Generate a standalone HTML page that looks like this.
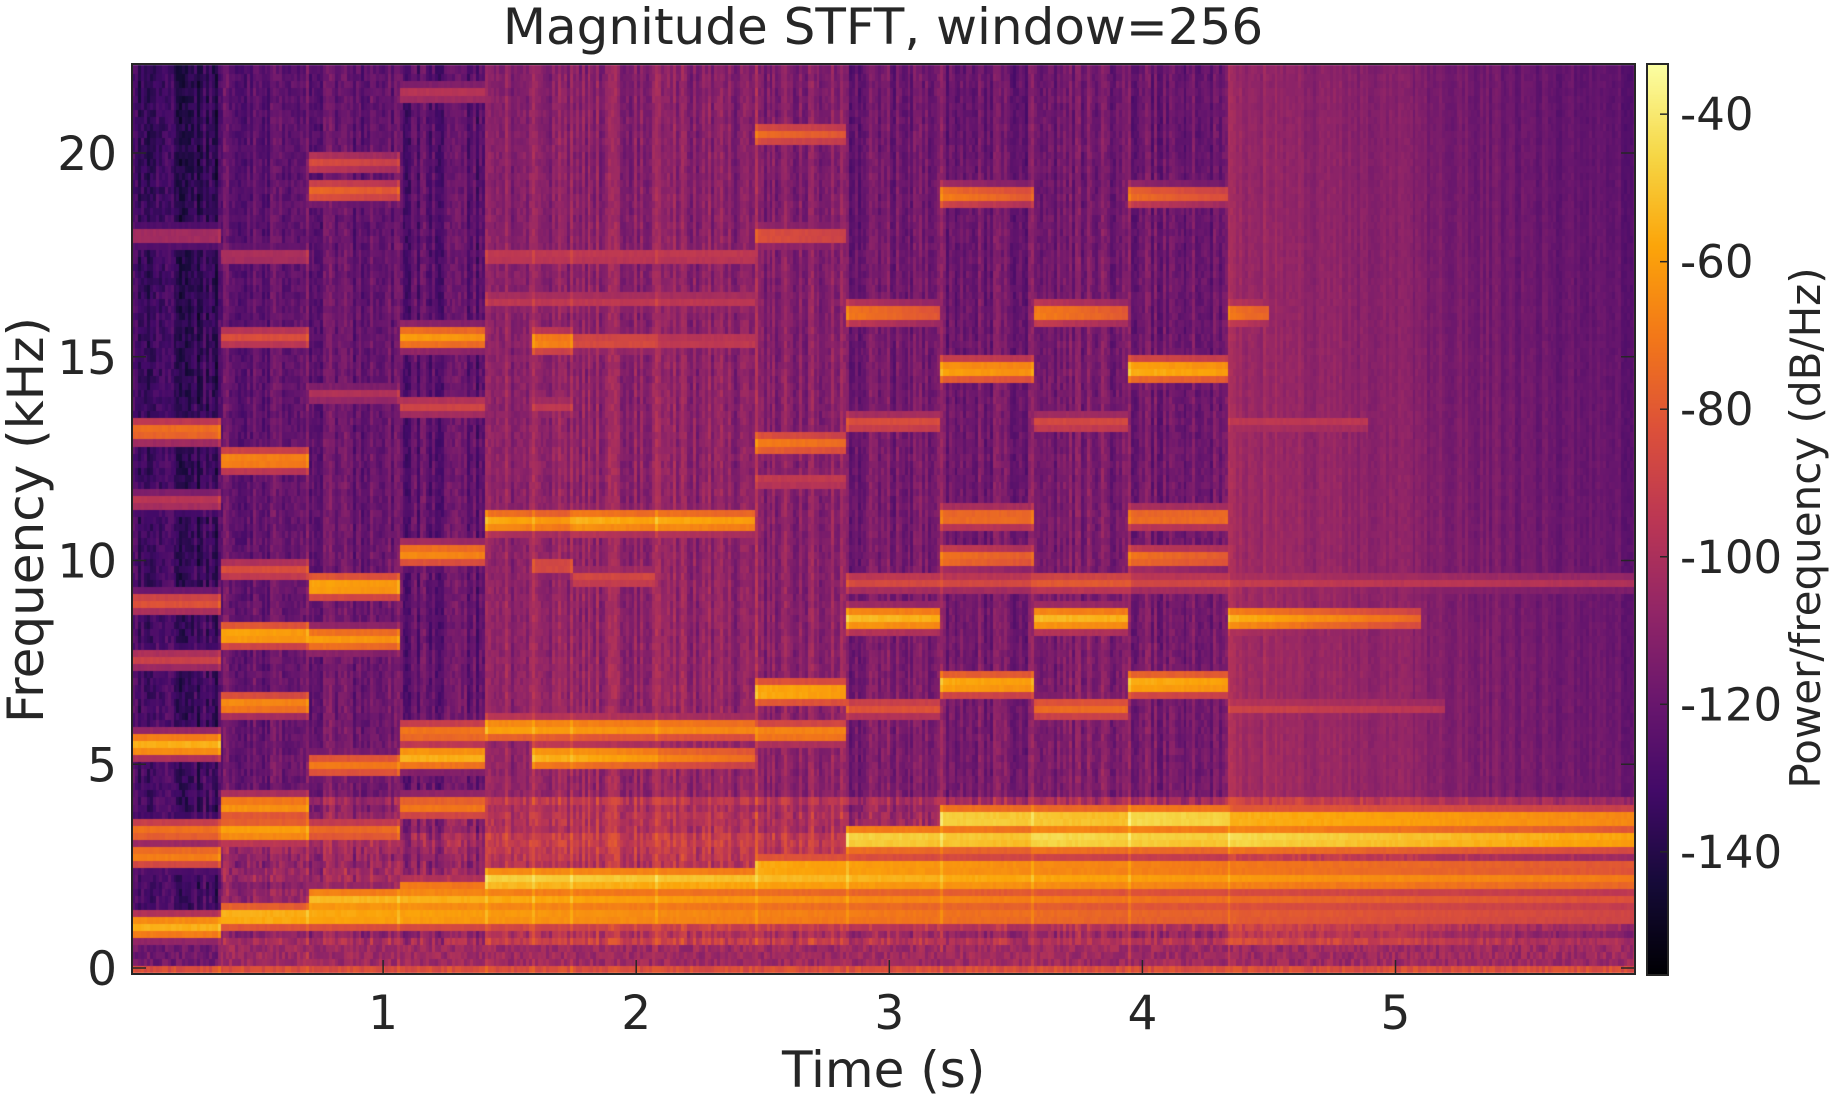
<!DOCTYPE html>
<html><head><meta charset="utf-8">
<style>
html,body{margin:0;padding:0;background:#fff;}
#wrap{position:relative;width:1831px;height:1100px;overflow:hidden;font-family:"DejaVu Sans","Liberation Sans",sans-serif;color:#262626;}
.t{position:absolute;white-space:nowrap;}
</style></head>
<body>
<div id="wrap">
<div class="t" style="left:0;width:1766px;text-align:center;top:-2px;font-size:50px;">Magnitude STFT, window=256</div>
<canvas id="hm" width="1503" height="910" style="position:absolute;left:132px;top:64px;"></canvas>
<canvas id="cb" width="21" height="911" style="position:absolute;left:1647px;top:64px;"></canvas>
<svg id="ov" width="1831" height="1100" style="position:absolute;left:0;top:0;"></svg>
<div class="t" style="left:782px;top:1040px;font-size:50px;line-height:60px;">Time (s)</div>
<div class="t" style="left:26px;top:520px;font-size:50px;line-height:56px;transform:translate(-50%,-50%) rotate(-90deg);">Frequency (kHz)</div>
<div class="t" style="left:1806px;top:528px;font-size:42px;line-height:48px;transform:translate(-50%,-50%) rotate(-90deg);">Power/frequency (dB/Hz)</div>
</div>
<script>
// ---- data ----
const xTicks = [1, 2, 3, 4, 5];
const yTicks = [0, 5, 10, 15, 20];
const cbTicks = [-40, -60, -80, -100, -120, -140];
// background segments: onset time (s), base level (dB), noise amplitude, decay dB/s
const segStart = [0, 0.358, 0.707, 1.065, 1.409, 1.59, 1.749, 2.079, 2.474, 2.833, 3.205, 3.572, 3.944, 4.344];
const segBg    = [-131, -117, -117, -120, -105, -105, -105, -106, -108, -114, -114, -112, -114, -100];
const segNoise = [6, 5, 5, 5, 4, 4, 4, 4, 4, 4, 4, 4, 4, 2];
const segDecay = [0, 0, 0, 0, 0, 0, 0, 2, 0, 0, 0, 0, 0, 12];
// notes: [start s, end s, freq kHz, peak dB, decay dB/s]
const notes = [
 [0,0.358,1.05,-55,0],[0,0.358,2.8,-68,0],[0,0.358,3.4,-72,0],[0,0.358,5.5,-55,0],[0,0.358,9.0,-82,0],[0,0.358,13.2,-72,0],[0,0.358,7.6,-90,0],[0,0.358,11.5,-95,0],[0,0.358,18,-100,0],
 [0.358,5.95,1.3,-52,6],[0.358,0.707,3.4,-58,5],[0.358,0.707,4.0,-62,5],[0.358,0.707,6.5,-64,10],[0.358,0.707,8.2,-56,10],[0.358,0.707,9.8,-84,0],[0.358,0.707,12.5,-64,10],[0.358,0.707,15.5,-84,0],[0.358,0.707,17.5,-98,0],
 [0.707,5.95,1.7,-52,6],[0.707,1.065,3.4,-74,0],[0.707,1.065,5.0,-70,0],[0.707,1.065,8.1,-60,10],[0.707,1.065,9.4,-56,10],[0.707,1.065,19.1,-74,20],[0.707,1.065,19.8,-84,20],[0.707,1.065,14.1,-98,0],
 [1.065,5.95,1.95,-64,6],[1.065,1.409,4.0,-70,0],[1.065,1.409,5.2,-54,5],[1.065,1.409,5.8,-70,0],[1.065,1.409,10.2,-64,10],[1.065,1.409,15.5,-60,10],[1.065,1.409,13.8,-88,0],[1.065,1.409,21.5,-96,0],
 [1.409,5.95,2.2,-46,5],[1.409,2.474,5.9,-58,8],[1.409,1.749,11.0,-56,20],[1.409,2.474,17.5,-92,0],[1.409,2.474,16.4,-94,0],
 [1.59,1.749,5.2,-54,10],[1.59,1.749,9.9,-84,0],[1.59,1.749,15.4,-64,20],[1.59,1.749,13.8,-94,0],
 [1.749,2.079,5.2,-55,20],[1.749,2.079,9.6,-86,0],[1.749,2.079,11.0,-54,15],[1.749,2.079,15.4,-84,0],
 [2.079,2.474,5.2,-66,20],[2.079,2.474,11.0,-56,12],[2.079,2.474,15.4,-92,0],
 [2.474,5.95,2.5,-54,7],[2.474,2.833,5.8,-66,0],[2.474,2.833,6.8,-54,10],[2.474,2.833,12.9,-68,20],[2.474,2.833,12.0,-92,0],[2.474,2.833,18.0,-80,20],[2.474,2.833,20.5,-74,20],
 [2.833,3.572,3.2,-44,6],[2.833,3.205,6.4,-82,0],[2.833,3.205,8.6,-52,10],[2.833,3.205,9.5,-86,0],[2.833,3.205,13.4,-84,0],[2.833,3.205,16.1,-68,30],
 [3.205,5.95,3.7,-44,7],[3.205,3.572,7.0,-55,10],[3.205,3.572,10.1,-70,20],[3.205,3.572,11.1,-72,0],[3.205,3.572,14.7,-58,12],[3.205,3.572,19.0,-68,30],[3.205,3.572,9.5,-87,0],
 [3.572,4.344,3.2,-42,6],[3.572,3.944,6.4,-74,0],[3.572,3.944,8.6,-52,10],[3.572,3.944,9.5,-80,0],[3.572,3.944,13.4,-86,0],[3.572,3.944,16.1,-66,30],
 [3.944,4.344,3.7,-42,5],[3.944,4.344,7.0,-54,10],[3.944,4.344,10.1,-70,20],[3.944,4.344,11.1,-72,0],[3.944,4.344,14.7,-54,12],[3.944,4.344,19.0,-72,30],[3.944,4.344,9.5,-87,0],
 [4.344,5.95,3.2,-42,9],[4.344,5.1,8.6,-54,28],[4.344,5.95,9.5,-92,4],[4.344,5.2,6.4,-88,10],[4.344,4.9,13.4,-94,0],[4.344,4.5,16.1,-68,40]
];
// ---- axes ----
const PL=132, PT=64, PR=1635, PB=974;
const T0=130, TPX=253.1;
const F0=968, FPX=40.75;
const DBTOP=-33.2, DBBOT=-156.7;
function xs(t){return T0+t*TPX;}
function ys(f){return F0-f*FPX;}
function cy(db){return 64+(DBTOP-db)/(DBTOP-DBBOT)*911;}
const stops=[[0,0,0,4],[0.1,22,11,57],[0.2,66,10,104],[0.3,106,23,110],[0.4,147,38,103],[0.5,188,55,84],[0.6,221,81,58],[0.7,243,120,25],[0.8,252,165,10],[0.9,246,215,70],[1,252,255,164]];
function cmap(v){v=Math.max(0,Math.min(1,v));for(let i=1;i<stops.length;i++){if(v<=stops[i][0]){const a=stops[i-1],b=stops[i],u=(v-a[0])/(b[0]-a[0]);return [a[1]+(b[1]-a[1])*u,a[2]+(b[2]-a[2])*u,a[3]+(b[3]-a[3])*u];}}return [252,255,164];}
function hash(i,j){let h=(i*374761393+j*668265263)|0;h=(h^(h>>>13))*1274126177|0;h=h^(h>>>16);return ((h>>>0)%10000)/10000;}
// ---- heatmap ----
const DT=0.0116, BIN=44.1/256;
const hm=document.getElementById('hm'), ctx=hm.getContext('2d');
const nCols=Math.ceil(5.95/DT), nBins=129;
for(let c=0;c<nCols;c++){
  const ta=c*DT, tb=ta+DT, t=ta+DT/2;
  let s=0; for(let k=0;k<segStart.length;k++) if(segStart[k]<=t) s=k;
  let onset=false; for(let k=1;k<segStart.length;k++) if(segStart[k]>=ta&&segStart[k]<tb) onset=true;
  const colN=(hash(c,999)-0.5)*(s===13?8:16);
  for(let b=0;b<nBins;b++){
    const f=b*BIN;
    let v=segBg[s]-segDecay[s]*(t-segStart[s])-0.25*f+colN+(hash(c,b)-0.5)*2*segNoise[s];
    if(t>0.358&&f<4.3) v+=12+(hash(b,77)-0.5)*10+(hash(c,b+300)-0.5)*8;
    if(b===0) v=-84+(hash(c,b)-0.5)*10;
    else if(b<=3) v=(t<0.358?-118:-104)+(hash(c,b)-0.5)*14;
    for(const n of notes){
      if(t<n[0]||t>n[1]) continue;
      const d=Math.abs(f-n[2])/BIN;
      if(d>2.5) continue;
      const lv=n[3]-n[4]*(t-n[0])-12*d*d+(hash(c,b+500)-0.5)*3;
      if(lv>v) v=lv;
    }
    if(onset) v+=7;
    const col=cmap((v-DBBOT)/(DBTOP-DBBOT));
    ctx.fillStyle='rgb('+(col[0]|0)+','+(col[1]|0)+','+(col[2]|0)+')';
    const x0=xs(ta)-PL, x1=xs(tb)-PL, y0=ys(f+BIN/2)-PT, y1=ys(f-BIN/2)-PT;
    ctx.fillRect(Math.floor(x0),Math.floor(y0),Math.ceil(x1-x0)+1,Math.ceil(y1-y0)+1);
  }
}
// ---- colorbar ----
const cb=document.getElementById('cb'), cctx=cb.getContext('2d');
for(let y=0;y<911;y++){const col=cmap(1-y/910);cctx.fillStyle='rgb('+(col[0]|0)+','+(col[1]|0)+','+(col[2]|0)+')';cctx.fillRect(0,y,21,1);}
// ---- overlay ----
const NS='http://www.w3.org/2000/svg', ov=document.getElementById('ov');
function el(tag,attrs,txt){const e=document.createElementNS(NS,tag);for(const k in attrs)e.setAttribute(k,attrs[k]);if(txt!==undefined)e.textContent=txt;ov.appendChild(e);return e;}
let r=el('rect',{x:PL,y:PT,width:PR-PL,height:PB-PT,fill:'none',stroke:'#262626','stroke-width':2});


let r2=el('rect',{x:1647,y:64,width:21,height:911,fill:'none',stroke:'#262626','stroke-width':2});


xTicks.forEach(v=>{const x=xs(v);
  const l=el('line',{x1:x,x2:x,y1:PB,y2:PB-14,stroke:'#262626','stroke-width':1.5});
  
  
  const tx=el('text',{x:x,y:1029,'text-anchor':'middle','font-size':47,fill:'#262626','font-family':'DejaVu Sans, Liberation Sans, sans-serif'},String(v));
  
  
});
yTicks.forEach(v=>{const y=ys(v);
  const l=el('line',{x1:PL,x2:PL+14,y1:y,y2:y,stroke:'#262626','stroke-width':1.5});
  
  
  const l2=el('line',{x1:PR,x2:PR-14,y1:y,y2:y,stroke:'#262626','stroke-width':1.5});
  
  
  const tx=el('text',{x:117,y:y+17,'text-anchor':'end','font-size':47,fill:'#262626','font-family':'DejaVu Sans, Liberation Sans, sans-serif'},String(v));
  
  
});
cbTicks.forEach(v=>{const y=cy(v);
  const l=el('line',{x1:1660,x2:1668,y1:y,y2:y,stroke:'#262626','stroke-width':1.5});
  
  
  const tx=el('text',{x:1680,y:y+16,'text-anchor':'start','font-size':45,fill:'#262626','font-family':'DejaVu Sans, Liberation Sans, sans-serif'},String(v));
  
  
});
</script>
</body></html>
